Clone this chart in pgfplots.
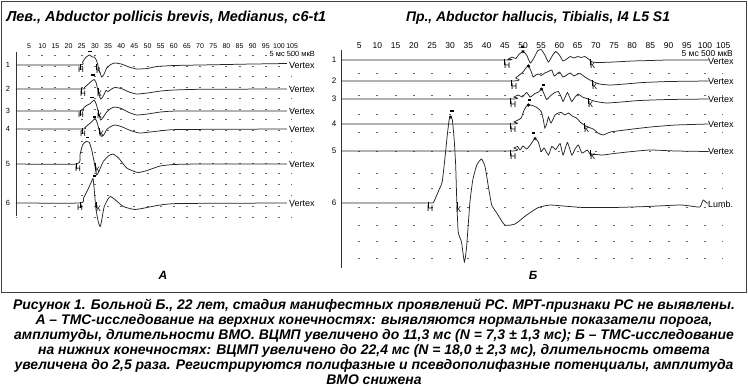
\documentclass[border=0pt]{standalone}
\usepackage{fontspec}
\setmainfont{Liberation Sans}
\usepackage{pgfplots}
\pgfplotsset{compat=1.18}
\usepackage{graphicx}

\pgfplotsset{
  emg/.style={
    scale only axis, y dir=reverse, clip=false,
    axis line style={draw=none}, major tick length=0pt, tick style={draw=none},
    xticklabel pos=upper, yticklabels={}, ymajorgrids,
    /pgf/number format/assume math mode=true,
  },
  tr/.style={black!85, line width=0.75bp, no marks, smooth, tension=0.3},
  hk/.style={only marks, mark=|, mark size=3bp, black, line width=0.7bp},
  amp/.style={only marks, mark=-, mark size=1.6bp, black, line width=1.6bp},
  star/.style={only marks, mark=asterisk, mark size=1.6bp, black, line width=0.6bp},
}

\begin{document}
\begin{tikzpicture}[x=1bp,y=1bp]
\useasboundingbox (0,0) rectangle (748,-386);
\draw[line width=0.9bp, black!75] (1.5,-1) rectangle (746.5,-292);
\coordinate (LC) at (154.075,-135);
\coordinate (RC) at (532.1,-160);

% titles
\node[font=\fontsize{14.5}{16}\selectfont\bfseries\itshape, anchor=west] at (3,-18) {Лев., Abductor pollicis brevis, Medianus, c6-t1};
\node[font=\fontsize{14}{16}\selectfont\bfseries\itshape] at (538,-18) {Пр., Abductor hallucis, Tibialis, l4 L5 S1};

% ================= LEFT PANEL =================
\begin{axis}[emg,
  at={(LC)}, anchor=center,
  width=276.15bp, height=170bp,
  xmin=0, xmax=105, ymin=50, ymax=220,
  xtick={5,10,...,105},
  xticklabel style={font=\fontsize{7}{8}\selectfont, inner sep=1bp},
  ytick={55,66,76.6,87.4,98.2,109,119.8,130.6,141.4,152.2,163,173.8,184.6,195.4,206.2,217},
  y grid style={dash pattern=on 2bp off 11.15bp, dash phase=1bp, black!60, line width=0.7bp},
]
\addplot[black!80, line width=0.8bp, no marks] coordinates {(0,52) (0,216)};
% trace 1
\addplot[tr] coordinates {(0,65) (24.3,65) (25.3,62) (26.5,57.5) (27.9,55) (29,57) (29.8,57) (30.7,61) (31.6,70) (32.6,77) (33.5,74) (34.5,68) (36,64.5) (37.6,63) (40,64) (43,67) (45.9,69) (50,68.5) (53.5,66.5) (60,65.5) (70,65) (80,64.5) (90,64) (103,63.5)};
% trace 2
\addplot[tr] coordinates {(0,89) (25,89) (26,87.5) (27.5,84) (28.8,81) (29.7,79.5) (30.5,83) (31.2,91) (32.2,99) (33.2,96) (34.2,90.5) (35,91.5) (36.3,89) (37.6,87.5) (40,88.5) (43,92) (45.9,94) (50,93) (55,91) (60,90) (70,89.3) (103,89)};
% trace 3
\addplot[tr] coordinates {(0,111) (24.5,111) (25.5,108.5) (26.8,105.5) (28.3,103.5) (29.7,100) (30.5,104) (31.3,112) (32.2,120) (33.2,117) (34.5,112) (36,108.5) (37.6,107) (40,108.5) (43,112.5) (45.9,115) (50,114) (55,112) (62,111) (103,111)};
% trace 4
\addplot[tr] coordinates {(0,129) (25.2,129) (26.2,127.5) (27.3,125) (28.7,122) (30.1,118.5) (30.9,123) (31.7,131) (32.6,136.5) (33.6,134) (34.5,129.5) (36,126.5) (37.6,125) (40,126.5) (43.5,130.5) (47,133) (51,132) (56,130.5) (62,129.5) (103,129)};
% trace 5
\addplot[tr] coordinates {(0,164) (23.1,164) (24.3,155) (25.3,145) (26.6,141.5) (27.9,142.5) (28.8,150) (29.8,163) (30.7,175) (32,168.5) (33.2,161.5) (35.1,156) (36.8,154) (39,158) (42.1,168) (46.3,172.5) (49.8,170.5) (54.8,166) (60,164.5) (70,164) (103,164)};
% trace 6
\addplot[tr] coordinates {(0,203) (24.3,203) (25.6,198.5) (27.5,188.5) (28.8,181) (29.3,178.5) (29.8,191) (30.4,209) (31.3,222) (32,226.5) (32.6,220) (33.5,207) (35.1,198.5) (36,196.5) (37.6,199.5) (40.8,206.5) (45.2,209.5) (49.8,207.5) (54.8,205) (62,203.5) (103,203)};
% onset / end markers
\addplot[hk] coordinates {(24.3,67) (30.7,67) (25,91) (31.2,91) (24.5,113) (31.3,113) (25.2,131) (31.7,131) (23.1,166) (30.3,166) (24.3,205) (30.6,205)};
% amplitude cursors
\addplot[amp] coordinates {(28.1,51.5) (29.3,75) (28.9,97.5) (29.8,117) (27.1,137.5) (29.7,176)};
\end{axis}

% left letters H / K
\begin{scope}[every node/.style={font=\fontsize{8}{9}\selectfont, inner sep=0pt, anchor=north west}]
\node at (78,-66.5) {Н}; \node at (96,-67.5) {К};
\node at (80,-90.5) {Н}; \node at (97,-91) {К};
\node at (78,-112) {Н}; \node at (97,-112.5) {К};
\node at (80,-130.5) {Н}; \node at (99,-131) {К};
\node at (75,-165.5) {Н}; \node at (95,-167) {К};
\node at (77,-204.5) {Н}; \node at (96,-206) {К};
\end{scope}
\begin{scope}[every node/.style={font=\fontsize{7.5}{9}\selectfont, inner sep=0pt}]
\node at (8,-65) {1}; \node at (8,-89) {2}; \node at (8,-110.5) {3};
\node at (8,-128.5) {4}; \node at (8,-163.5) {5}; \node at (8,-202.5) {6};
\end{scope}
\begin{scope}[every node/.style={font=\fontsize{9}{10}\selectfont, inner sep=0pt, anchor=west}]
\node at (289,-65.5) {Vertex}; \node at (289,-89.5) {Vertex}; \node at (289,-111) {Vertex};
\node at (289,-129) {Vertex}; \node at (289,-164) {Vertex}; \node at (289,-203.5) {Vertex};
\end{scope}
\node[font=\fontsize{7.5}{8}\selectfont, inner sep=0pt, anchor=east] at (315,-54) {5 мс 500 мкВ};

% ================= RIGHT PANEL =================
\begin{axis}[emg,
  at={(RC)}, anchor=center,
  width=382.2bp, height=220bp,
  xmin=0, xmax=105, ymin=50, ymax=270,
  xtick={5,10,...,105},
  xticklabel style={font=\fontsize{8.5}{10}\selectfont, inner sep=1bp},
  ytick={73,95,114,132,151,173,188,207,225,241,258},
  y grid style={dash pattern=on 2bp off 16.2bp, dash phase=1bp, black!60, line width=0.7bp},
]
\addplot[black!80, line width=0.8bp, no marks] coordinates {(0,50) (0,268)};
% trace 1
\addplot[tr] coordinates {(0,60) (45,60) (46,59) (47,57) (48,58.5) (49,54) (50,51.5) (51,55) (52,63) (53,58) (54,51) (55,49.5) (56,55) (57,62) (58,56) (59,51.5) (60,55) (61,61) (62,59) (63,56.5) (64,58) (65,56.5) (66,57.5) (67,56.5) (68,59) (69,62) (71,62.5) (75,62) (80,61) (85,60.5) (90,60) (101,60)};
% trace 2
\addplot[tr] coordinates {(0,81) (46.9,81) (48,78) (49,75) (50,72) (50.8,68) (51.5,66) (52.2,71) (52.8,77) (53.5,75) (54.3,74) (55,75.5) (56,73) (57,71.5) (57.9,70) (58.6,76) (60,72) (61,77) (62,75) (63,73) (64,76) (65,74) (65.7,73.5) (67,77) (68.9,81) (71,84) (74,85) (78,84) (83,82.5) (90,81.5) (101,81)};
% trace 3
\addplot[tr] coordinates {(0,99) (46.6,99) (47.5,97) (48.7,95) (49.8,97) (51,92.5) (52,97) (53.3,93.5) (54.3,92) (55.1,89) (55.8,94) (56.5,99.5) (57.5,96) (58.5,93) (59.7,91.5) (60.5,97) (61,101.5) (61.6,97) (62.2,92.5) (62.8,97) (63.4,101.5) (64.3,97) (65.2,94) (66.3,97) (67.9,99) (70,101.5) (73,103) (77,102) (82,100.5) (90,99.5) (101,99)};
% trace 4
\addplot[tr] coordinates {(0,124) (46.6,124) (47.5,122) (48.6,120) (49.5,118) (50.3,110) (51,106) (52,105) (53,106) (54,108) (55,111.5) (55.6,120) (56,128) (56.5,124) (57,117) (57.7,123) (58.8,115) (59.7,113) (60.6,112.5) (61.5,115) (62.5,113) (63.5,116) (64.7,118) (65.7,122) (66.8,125) (67.8,127) (69.3,129) (70.6,133) (72,135) (74,132) (78,130) (85,127) (92,125) (101,124)};
% trace 5
\addplot[tr] coordinates {(0,151) (46.6,151) (47.5,148) (48.5,146.5) (49.2,150) (50,146) (51,149) (52,145) (53.3,138.5) (54.2,142) (55,151.5) (55.8,148) (57,155) (57.9,146.5) (59,149.5) (60.2,143.5) (61,155) (62.2,142.5) (63.4,155) (64.3,149) (65.2,145) (66.2,153) (67.7,150) (68.4,154) (70,154.5) (72,155) (75,153.5) (80,151.5) (85,150) (92,151) (101,151.5)};
% trace 6
\addplot[tr] coordinates {(0,203) (24,203) (25.5,201.5) (26.9,190) (27.8,182) (28.7,153) (29.2,135) (29.7,120) (30.1,117) (30.6,120) (31.1,140) (31.5,165) (31.8,200) (32.2,232) (33.1,242) (33.9,262) (34.5,247) (35.4,203) (36.2,180) (37.3,165) (38.6,159) (39.6,167) (40.5,187) (41.4,205) (42.8,213) (45,225) (47.8,224) (51,215) (54.2,207.5) (57.4,205) (61,206) (66.6,207.5) (74.8,207.5) (84,206.5) (93,205) (96,206) (98.6,207) (99.5,200) (100.5,203) (101,203)};
\addplot[hk] coordinates {(45,62) (68.4,62) (46.9,83) (69,83) (46.6,101) (67.9,101) (46.6,126) (66.8,126) (46.6,153) (68.4,153) (24,205) (32,205)};
\addplot[amp] coordinates {(49.9,47) (55.6,85) (51.7,100) (52.8,133) (30.5,111)};
\addplot[star] coordinates {(50,51.5) (51.5,66) (55.1,89) (51.5,105) (53.3,138.5) (30.1,117)};
\end{axis}

\begin{scope}[every node/.style={font=\fontsize{8.5}{10}\selectfont, inner sep=0pt, anchor=north west}]
\node at (504,-62.5) {Н}; \node at (590,-62.5) {К};
\node at (511,-83.5) {Н}; \node at (592,-83.5) {К};
\node at (510,-101.5) {Н}; \node at (588,-101.5) {К};
\node at (510,-126.5) {Н}; \node at (584,-126.5) {К};
\node at (510,-153.5) {Н}; \node at (590,-153.5) {К};
\node at (427,-205.5) {Н}; \node at (456,-206) {К};
\end{scope}
\begin{scope}[every node/.style={font=\fontsize{8}{9}\selectfont, inner sep=0pt}]
\node at (334,-60) {1}; \node at (334,-80.5) {2}; \node at (334,-98.5) {3};
\node at (334,-124) {4}; \node at (334,-151) {5}; \node at (334,-203) {6};
\end{scope}
\begin{scope}[every node/.style={font=\fontsize{9}{10}\selectfont, inner sep=0pt, anchor=west}]
\node at (708,-61.5) {Vertex}; \node at (708,-81.5) {Vertex}; \node at (708,-99.5) {Vertex};
\node at (708,-124.5) {Vertex}; \node at (708,-151.5) {Vertex}; \node at (708,-204) {Lumb.};
\end{scope}
\node[font=\fontsize{8.5}{10}\selectfont, inner sep=0pt, anchor=east] at (733,-53.5) {5 мс 500 мкВ};

% panel letters
\node[font=\fontsize{12}{14}\selectfont\bfseries\itshape] at (163,-275) {А};
\node[font=\fontsize{12}{14}\selectfont\bfseries\itshape] at (533,-275) {Б};

% caption
\begin{scope}[every node/.style={font=\fontsize{14}{15}\selectfont\bfseries\itshape, inner sep=0pt, anchor=base}]
\node at (374,-309.5) {Рисунок 1. Больной Б., 22 лет, стадия манифестных проявлений РС. МРТ-признаки РС не выявлены.};
\node at (374,-324.5) {А – ТМС-исследование на верхних конечностях: выявляются нормальные показатели порога,};
\node at (374,-339.5) {амплитуды, длительности ВМО. ВЦМП увеличено до 11,3 мс (N = 7,3 ± 1,3 мс); Б – ТМС-исследование};
\node at (374,-354.5) {на нижних конечностях: ВЦМП увеличено до 22,4 мс (N = 18,0 ± 2,3 мс), длительность ответа};
\node at (374,-369.5) {увеличена до 2,5 раза. Регистрируются полифазные и псевдополифазные потенциалы, амплитуда};
\node at (374,-384.5) {ВМО снижена};
\end{scope}
\end{tikzpicture}
\end{document}
